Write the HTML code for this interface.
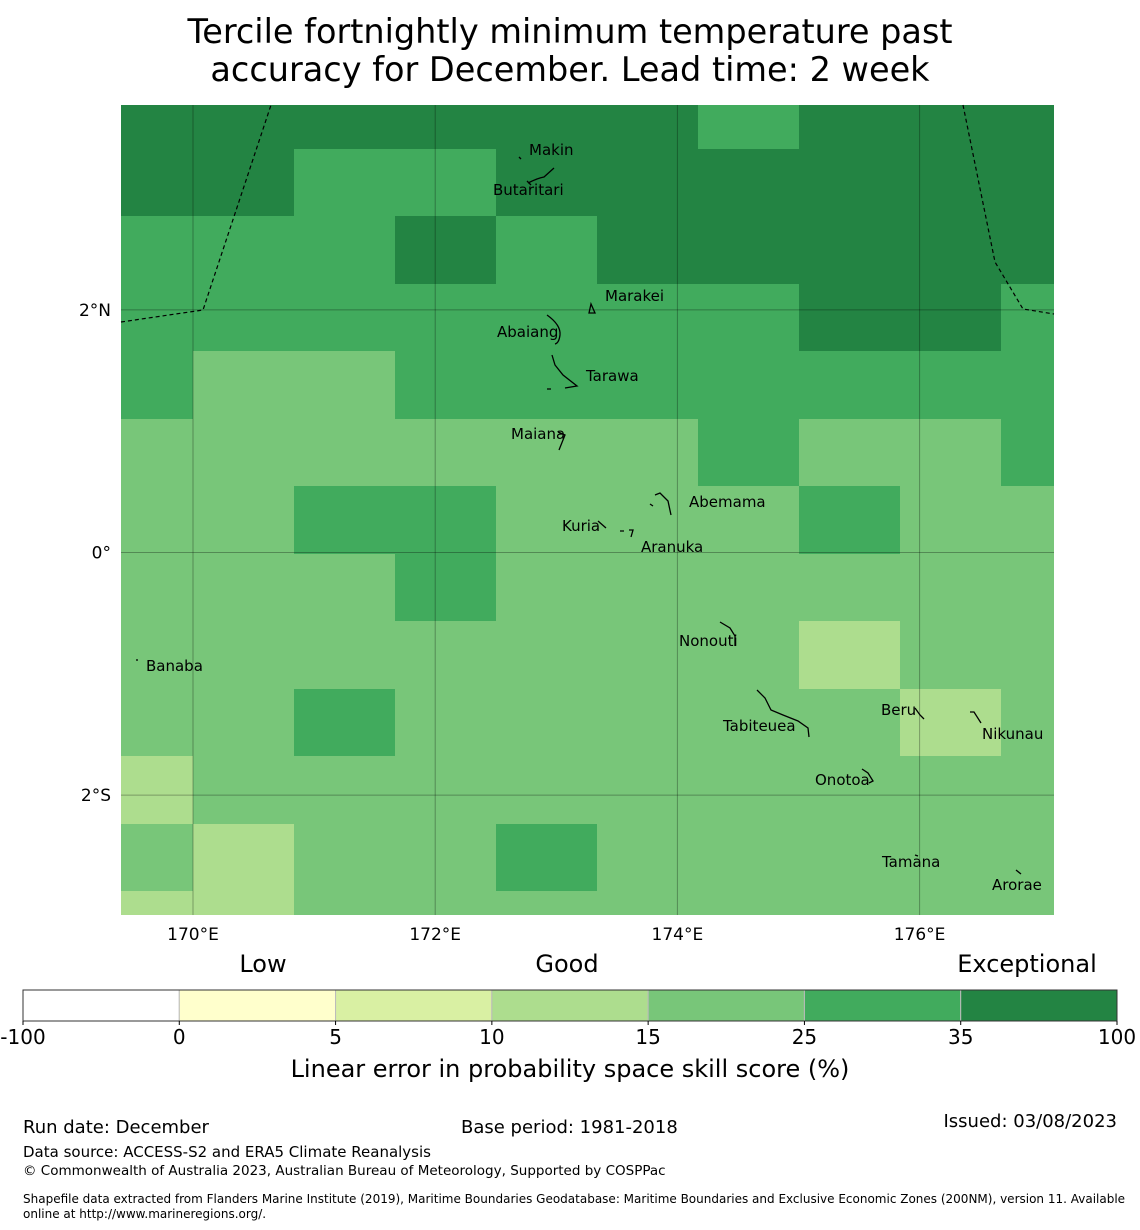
<!DOCTYPE html>
<html><head><meta charset="utf-8"><style>
html,body{margin:0;padding:0;background:#fff;}
svg{display:block;font-family:"DejaVu Sans","Liberation Sans",sans-serif;}
</style></head><body>
<svg id="chart" width="1140" height="1230" viewBox="0 0 1140 1230" xmlns="http://www.w3.org/2000/svg">
<text x="570" y="43" font-size="33.5" text-anchor="middle">Tercile fortnightly minimum temperature past</text>
<text x="570" y="81" font-size="33.5" text-anchor="middle">accuracy for December. Lead time: 2 week</text>
<g id="cells" shape-rendering="crispEdges"></g>
<g id="grid"></g>
<g fill="none" stroke="#000" stroke-width="1.2" stroke-dasharray="4,3">
<polyline points="121,322 203,310 271,105"/>
<polyline points="963,105 995,262 1023,309 1054,314"/>
</g>
<g fill="none" stroke="#000" stroke-width="1.3">
<path d="M519,157 l2,2" /><path d="M528,183 q10,-5 16,-6 l10,-9 M527,181 l4,4"/>
<path d="M589,313 l2,-9 l4,9 z"/>
<path d="M547,315 q14,10 13,20 q-1,8 -5,9"/>
<path d="M552,355 l3,10 l8,10 l14,11 l-12,2 M547,389 h4"/>
<path d="M558,432 l7,3 l-6,15"/>
<path d="M655,495 l5,-2 l8,8 l3,14 M650,504 l3,2"/>
<path d="M598,521 l8,7 M620,531 h4 M629,530 h4 l-2,7"/>
<path d="M720,622 l10,6 l5,8 v10"/>
<path d="M136,660 l2,0"/>
<path d="M757,690 l8,8 l6,12 l12,5 l15,6 l10,7 l1,9"/>
<path d="M915,708 l5,7 l4,4"/>
<path d="M970,712 h4 l7,11"/>
<path d="M862,769 l6,4 l5,8 l-4,2"/>
<path d="M915,855 l3,1"/>
<path d="M1016,870 l5,4"/>
</g>
<g font-size="15" fill="#000">
<text x="529" y="155">Makin</text>
<text x="493" y="195">Butaritari</text>
<text x="605" y="301">Marakei</text>
<text x="497" y="337">Abaiang</text>
<text x="586" y="381">Tarawa</text>
<text x="511" y="439">Maiana</text>
<text x="689" y="507">Abemama</text>
<text x="562" y="531">Kuria</text>
<text x="641" y="552">Aranuka</text>
<text x="679" y="646">Nonouti</text>
<text x="146" y="671">Banaba</text>
<text x="723" y="731">Tabiteuea</text>
<text x="881" y="715">Beru</text>
<text x="982" y="739">Nikunau</text>
<text x="815" y="785">Onotoa</text>
<text x="882" y="867">Tamana</text>
<text x="992" y="890">Arorae</text>
</g>
<g id="axes" font-size="17"></g>
<g font-size="24">
<text x="263" y="972" text-anchor="middle">Low</text>
<text x="567" y="972" text-anchor="middle">Good</text>
<text x="1027" y="972" text-anchor="middle">Exceptional</text>
</g>
<g id="cbar"></g>
<text x="570" y="1077" font-size="24" text-anchor="middle">Linear error in probability space skill score (%)</text>
<g>
<text x="23" y="1133" font-size="18">Run date: December</text>
<text x="461" y="1133" font-size="18">Base period: 1981-2018</text>
<text x="1117" y="1127" font-size="18" text-anchor="end">Issued: 03/08/2023</text>
<text x="23" y="1157" font-size="15">Data source: ACCESS-S2 and ERA5 Climate Reanalysis</text>
<text x="23" y="1175" font-size="13.5">© Commonwealth of Australia 2023, Australian Bureau of Meteorology, Supported by COSPPac</text>
<text x="23" y="1203" font-size="12">Shapefile data extracted from Flanders Marine Institute (2019), Maritime Boundaries Geodatabase: Maritime Boundaries and Exclusive Economic Zones (200NM), version 11. Available</text>
<text x="23" y="1218" font-size="12">online at http://www.marineregions.org/.</text>
</g>
</svg>
<script>
// skill class per cell: 3=35-100 (dark), 2=25-35, 1=15-25, 0=10-15
const row0=[3,3,3,3,3,3,2,3,3,3];
const row1=[3,3,2,2,3,3,3,3,3,3];
const row2=[2,2,2,3,2,3,3,3,3,3];
const row3=[2,2,2,2,2,2,2,3,3,2];
const row4=[2,1,1,2,2,2,2,2,2,2];
const row5=[1,1,1,1,1,1,2,1,1,2];
const row6=[1,1,2,2,1,1,1,2,1,1];
const row7=[1,1,1,2,1,1,1,1,1,1];
const row8=[1,1,1,1,1,1,1,0,1,1];
const row9=[1,1,2,1,1,1,1,1,0,1];
const row10=[0,1,1,1,1,1,1,1,1,1];
const row11=[1,0,1,1,2,1,1,1,1,1];
const row12=[0,0,1,1,1,1,1,1,1,1];
const gridRows=[row0,row1,row2,row3,row4,row5,row6,row7,row8,row9,row10,row11,row12];
const classColors=["#addd8e","#78c679","#41ab5d","#238443"];
const lonTicks=[170,172,174,176];
const lonLabels=["170°E","172°E","174°E","176°E"];
const latTicks=[2,0,-2];
const latLabels=["2°N","0°","2°S"];
const cbarBounds=["-100","0","5","10","15","25","35","100"];
const cbarColors=["#ffffff","#ffffcc","#d9f0a3","#addd8e","#78c679","#41ab5d","#238443"];

const NS="http://www.w3.org/2000/svg";
const X0=121,X1=1054,Y0=105,Y1=915;
const colW=101,colStart=193-101;
const rowH=67.45,rowStart=149-rowH;
const xLon=lon=>193+(lon-170)*121.1;
const yLat=lat=>552.5-lat*121.3;
function mk(tag,attrs,parent){const e=document.createElementNS(NS,tag);for(const k in attrs)e.setAttribute(k,attrs[k]);parent.appendChild(e);return e;}
const cells=document.getElementById('cells');
gridRows.forEach((row,r)=>{row.forEach((v,c)=>{
  const xa=Math.round(Math.max(X0,colStart+c*colW)), xb=Math.round(Math.min(X1,colStart+(c+1)*colW));
  const ya=Math.round(Math.max(Y0,rowStart+r*rowH)), yb=Math.round(Math.min(Y1,rowStart+(r+1)*rowH));
  const el=mk('rect',{x:xa,y:ya,width:xb-xa,height:yb-ya,fill:classColors[v]},cells);
  
  
});});
const grid=document.getElementById('grid');
const axes=document.getElementById('axes');
lonTicks.forEach((lon,i)=>{
  const x=xLon(lon);
  const l=mk('line',{x1:x,x2:x,y1:Y0,y2:Y1,stroke:'#000','stroke-opacity':0.3,'stroke-width':1},grid);
  
  
  const t=mk('text',{x:x,y:940,'text-anchor':'middle'},axes);t.textContent=lonLabels[i];
  
  
});
latTicks.forEach((lat,i)=>{
  const y=yLat(lat);
  const l=mk('line',{x1:X0,x2:X1,y1:y,y2:y,stroke:'#000','stroke-opacity':0.3,'stroke-width':1},grid);
  
  
  const t=mk('text',{x:111,y:y+6,'text-anchor':'end'},axes);t.textContent=latLabels[i];
  
  
});
const cbar=document.getElementById('cbar');
const CB0=23,CB1=1117,CBY=990,CBH=31,segW=(CB1-CB0)/cbarColors.length;
cbarColors.forEach((col,i)=>{
  const r=mk('rect',{x:CB0+i*segW,y:CBY,width:segW,height:CBH,fill:col,stroke:'#bbb','stroke-width':1},cbar);
  
  
});
mk('rect',{x:CB0,y:CBY,width:CB1-CB0,height:CBH,fill:'none',stroke:'#333','stroke-width':1},cbar);
cbarBounds.forEach((b,i)=>{
  const x=CB0+i*segW;
  mk('line',{x1:x,x2:x,y1:CBY+CBH,y2:CBY+CBH+4,stroke:'#000'},cbar);
  const t=mk('text',{x:x,y:1044,'text-anchor':'middle','font-size':20},cbar);t.textContent=b;
  
  
});
</script>
</body></html>
